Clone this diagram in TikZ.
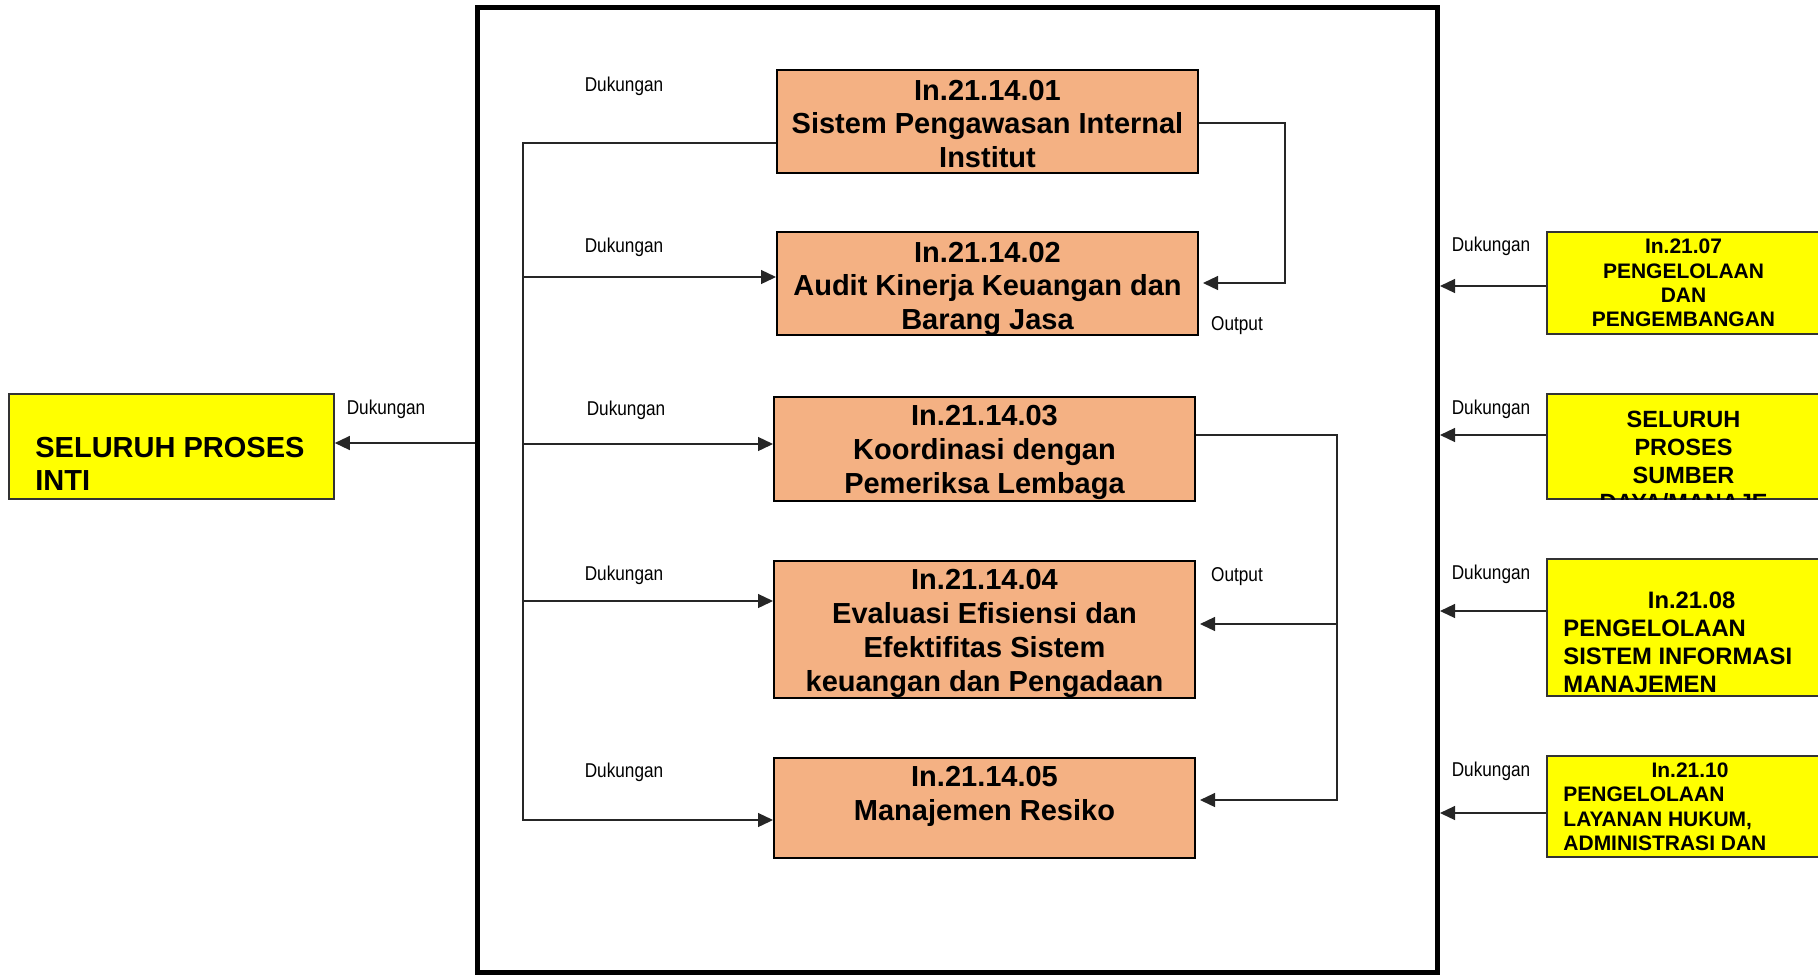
\documentclass[tikz,border=0pt]{standalone}
\usepackage{fontspec}
\setmainfont{Liberation Sans}
\newfontfamily\narrowfont[FakeStretch=0.86]{Liberation Sans}
\usetikzlibrary{arrows.meta}
\definecolor{procfill}{RGB}{244,177,131}
\definecolor{extfill}{RGB}{255,255,0}
\begin{document}
\begin{tikzpicture}[x=0.5pt,y=-0.5pt,
  frame/.style={draw=black, line width=2.5pt, inner sep=0pt, minimum width=480pt, minimum height=482.5pt},
  proc/.style={draw=black, line width=1pt, fill=procfill, inner sep=0pt, minimum width=210.5pt},
  proctext/.style={inner sep=0pt, align=center, font=\bfseries\fontsize{14.5}{16.8}\selectfont},
  ext/.style={draw=black!80, line width=0.8pt, fill=extfill, inner sep=0pt},
  exttext/.style={inner sep=0pt, font=\bfseries},
  lbl/.style={inner sep=0pt, font=\narrowfont\fontsize{10}{12}\selectfont},
  conn/.style={line width=0.65pt, draw=black!85},
  arr/.style={conn, -{Triangle[length=7.5pt,width=7pt]}}]
\useasboundingbox (0,0) rectangle (1818,975);
\clip (0,0) rectangle (1818,975);

% enclosing frame of the unit
\node[frame] (frame) at (957.5,489.5) {};

% internal processes
\node[proc, minimum height=51.5pt] (b1) at (987.5,121.5) {};
\node[proctext] (b1t) at ([yshift=-1.2pt]b1.center)
  {In.21.14.01\\Sistem Pengawasan Internal\\Institut};
\node[proc, minimum height=51.5pt] (b2) at (987.5,283.5) {};
\node[proctext] (b2t) at ([yshift=-2.6pt]b2.center)
  {In.21.14.02\\Audit Kinerja Keuangan dan\\Barang Jasa};
\node[proc, minimum height=52pt] (b3) at (984.5,449) {};
\node[proctext] (b3t) at ([yshift=-1.75pt]b3.center)
  {In.21.14.03\\Koordinasi dengan\\Pemeriksa Lembaga};
\node[proc, minimum height=68.5pt] (b4) at (984.5,629.5) {};
\node[proctext, font=\bfseries\fontsize{14.5}{17.1}\selectfont] (b4t) at ([yshift=-1.9pt]b4.center)
  {In.21.14.04\\Evaluasi Efisiensi dan\\Efektifitas Sistem\\keuangan dan Pengadaan};
\node[proc, minimum height=50pt] (b5) at (984.5,808) {};
\node[proctext] (b5t) at (984.5,796.3) {In.21.14.05\\Manajemen Resiko};

% external process on the left
\node[ext, minimum width=162.5pt, minimum height=52.5pt] (yl) at (171.5,446.5) {};
\node[exttext, anchor=west, align=left, font=\bfseries\fontsize{14.5}{16.8}\selectfont] (ylt) at (35,464)
  {SELURUH PROSES\\INTI};

% external processes on the right
\node[ext, minimum width=141.5pt, minimum height=51pt] (y1) at (1688.5,283) {};
\node[exttext, align=center, font=\bfseries\fontsize{10.5}{12.2}\selectfont] (y1t) at (1683.5,283)
  {In.21.07\\PENGELOLAAN\\DAN\\PENGEMBANGAN};

\node[ext, minimum width=141.5pt, minimum height=52.5pt] (y2) at (1688.5,446.5) {};
\begin{scope}
  \clip (y2.north west) rectangle (y2.south east);
  \node[exttext, align=center, font=\bfseries\fontsize{11.75}{13.9}\selectfont] (y2t) at (1683.5,461.3)
    {SELURUH\\PROSES\\SUMBER\\DAYA/MANAJE};
\end{scope}

\node[ext, minimum width=141.5pt, minimum height=68.5pt] (y3) at (1688.5,627.5) {};
\node[exttext, font=\bfseries\fontsize{11.9}{13.9}\selectfont] (y3h) at (1691.6,600) {In.21.08};
\node[exttext, anchor=west, align=left, font=\bfseries\fontsize{11.9}{13.9}\selectfont] (y3t) at (1563,656)
  {PENGELOLAAN\\SISTEM INFORMASI\\MANAJEMEN};

\node[ext, minimum width=141.5pt, minimum height=50.5pt] (y4) at (1688.5,806.5) {};
\node[exttext, font=\bfseries\fontsize{10.5}{12.2}\selectfont] (y4h) at (1690,770) {In.21.10};
\node[exttext, anchor=west, align=left, font=\bfseries\fontsize{10.5}{12.2}\selectfont] (y4t) at (1563,819)
  {PENGELOLAAN\\LAYANAN HUKUM,\\ADMINISTRASI DAN};

% support bus on the left inside the frame
\coordinate (busTop) at (523,143);
\coordinate (bus2) at (523,277);
\coordinate (bus3) at (523,444);
\coordinate (bus4) at (523,601);
\coordinate (busBot) at (523,820);
\draw[arr] (b1.west |- busTop) -- (busTop) -- (busBot) -- (b5.west |- busBot);
\draw[arr] (bus2) -- (b2.west |- bus2);
\draw[arr] (bus3) -- (b3.west |- bus3);
\draw[arr] (bus4) -- (b4.west |- bus4);

% outputs on the right inside the frame
\coordinate (r1a) at (1285,123);
\coordinate (r1b) at (1285,283);
\draw[arr] (b1.east |- r1a) -- (r1a) -- (r1b) -- ([xshift=2pt]b2.east |- r1b);
\coordinate (r3a) at (1337,435);
\coordinate (r3m) at (1337,624);
\coordinate (r3b) at (1337,800);
\draw[arr] (b3.east |- r3a) -- (r3a) -- (r3b) -- ([xshift=2pt]b5.east |- r3b);
\draw[arr] (r3m) -- ([xshift=2pt]b4.east |- r3m);

% links across the frame
\coordinate (ly) at (400,443);
\draw[arr] (frame.west |- ly) -- (yl.east |- ly);
\coordinate (ry1) at (1500,286);
\coordinate (ry2) at (1500,435);
\coordinate (ry3) at (1500,611);
\coordinate (ry4) at (1500,813);
\draw[arr] (y1.west |- ry1) -- (frame.east |- ry1);
\draw[arr] (y2.west |- ry2) -- (frame.east |- ry2);
\draw[arr] (y3.west |- ry3) -- (frame.east |- ry3);
\draw[arr] (y4.west |- ry4) -- (frame.east |- ry4);

% labels
\node[lbl] (d1) at (624,86) {Dukungan};
\node[lbl] (d2) at (624,247) {Dukungan};
\node[lbl] (d3) at (626,410) {Dukungan};
\node[lbl] (d4) at (624,575) {Dukungan};
\node[lbl] (d5) at (624,772) {Dukungan};
\node[lbl] (dl) at (386,409) {Dukungan};
\node[lbl] (dr1) at (1491,246) {Dukungan};
\node[lbl] (dr2) at (1491,409) {Dukungan};
\node[lbl] (dr3) at (1491,574) {Dukungan};
\node[lbl] (dr4) at (1491,771) {Dukungan};
\node[lbl] (o1) at (1237,325.5) {Output};
\node[lbl] (o2) at (1237,576.5) {Output};
\end{tikzpicture}
\end{document}
